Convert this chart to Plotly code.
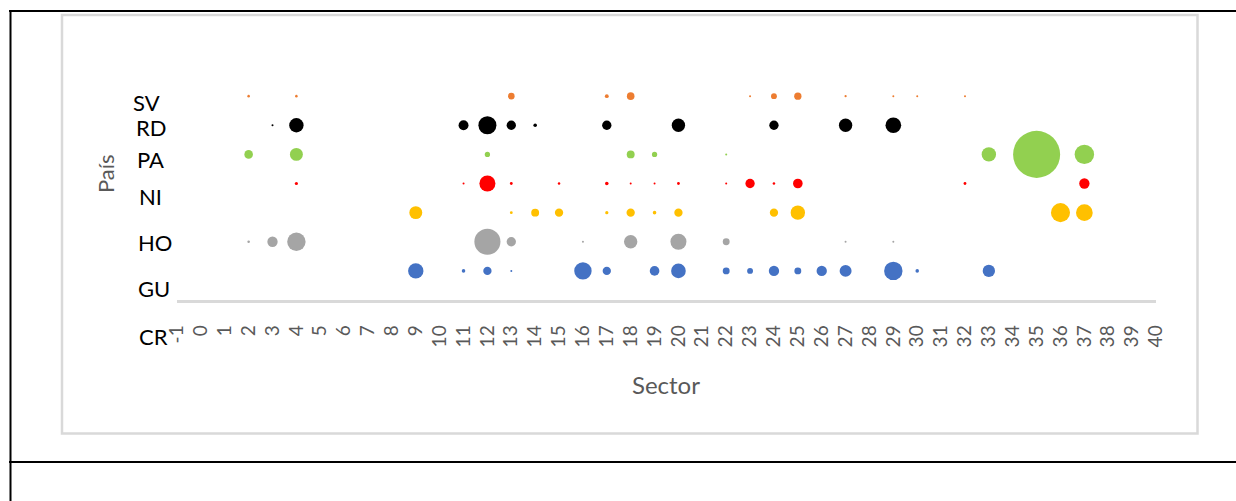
import plotly.graph_objects as go

# ---- data ----
sector_ticks = list(range(-1, 41))
row_labels = ["SV", "RD", "PA", "NI", "HO", "GU", "CR"]
row_level = [7, 6, 5, 4, 3, 2, 1]
row_colors = ["#ED7D31", "#000000", "#92D050", "#FF0000", "#FFC000", "#A5A5A5", "#4472C4"]

sv_sectors = [2, 4, 13, 17, 18, 23, 24, 25, 27, 29, 30, 32]
sv_values = [0.29, 0.29, 1.96, 0.67, 2.60, 0.10, 1.56, 2.40, 0.22, 0.05, 0.05, 0.05]

rd_sectors = [3, 4, 11, 12, 13, 14, 17, 20, 24, 27, 29]
rd_values = [0.15, 9.34, 4.45, 14.7, 3.92, 0.57, 3.92, 8.07, 3.92, 8.07, 11.1]

pa_sectors = [2, 4, 12, 18, 19, 22, 33, 35, 37]
pa_values = [3.34, 7.59, 1.25, 2.82, 1.25, 0.08, 9.34, 100, 17.1]

ni_sectors = [4, 11, 12, 13, 15, 17, 18, 19, 20, 22, 23, 24, 25, 32, 37]
ni_values = [0.47, 0.15, 11.6, 0.36, 0.29, 0.57, 0.08, 0.15, 0.36, 0.15, 3.92, 0.29, 4.18, 0.36, 4.82]

ho_sectors = [9, 13, 14, 15, 17, 18, 19, 20, 24, 25, 36, 37]
ho_values = [7.59, 0.36, 2.82, 3.11, 0.47, 3.11, 0.57, 3.11, 3.11, 9.34, 16.4, 12.6]

gu_sectors = [2, 3, 4, 12, 13, 16, 18, 20, 22, 27, 29]
gu_values = [0.29, 4.82, 15.3, 30.8, 3.92, 0.10, 8.07, 11.6, 2.14, 0.10, 0.10]

cr_sectors = [9, 11, 12, 13, 16, 17, 19, 20, 22, 23, 24, 25, 26, 27, 29, 30, 33]
cr_values = [10.7, 0.57, 3.11, 0.05, 13.7, 3.11, 4.18, 9.73, 2.14, 1.56, 4.82, 2.14, 4.82, 6.45, 15.3, 0.57, 6.89]

series_sectors = [sv_sectors, rd_sectors, pa_sectors, ni_sectors, ho_sectors, gu_sectors, cr_sectors]
series_values = [sv_values, rd_values, pa_values, ni_values, ho_values, gu_values, cr_values]

# ---- layout geometry (page pixels) ----
W, H = 1236, 501
L, R, T, B = 177, 1156, 67, 300  # plot area in page pixels


def px_x(x):
    return (x - L) / (R - L)


def px_y(y):
    return (B - y) / (B - T)


SIZEREF = 0.0904

fig = go.Figure()
for name, lvl, col, xs, vs in zip(row_labels, row_level, row_colors, series_sectors, series_values):
    fig.add_trace(go.Scatter(
        x=xs, y=[lvl] * len(xs), mode="markers", name=name,
        marker=dict(size=vs, sizemode="area", sizeref=SIZEREF, sizemin=1,
                    color=col, opacity=1, line=dict(width=0)),
        showlegend=False, hoverinfo="x+y+text", text=[str(v) for v in vs],
    ))

FONT = "Lato, Carlito, Calibri, sans-serif"

# country labels (text boxes left of the plot)
label_pos = [(131, 102), (134, 127), (135, 159), (137, 196), (136, 242), (136, 288), (137, 336)]
annotations = []
for lab, (lx, ly) in zip(row_labels, label_pos):
    annotations.append(dict(text=lab, x=px_x(lx), y=px_y(ly), xref="paper", yref="paper",
                            xanchor="left", yanchor="middle", showarrow=False,
                            font=dict(family=FONT, size=22, color="#000000")))
annotations.append(dict(text="País", x=px_x(105), y=px_y(174), xref="paper", yref="paper",
                        xanchor="center", yanchor="middle", showarrow=False, textangle=-90,
                        font=dict(family=FONT, size=22, color="#595959")))
annotations.append(dict(text="Sector", x=px_x(666), y=px_y(384), xref="paper", yref="paper",
                        xanchor="center", yanchor="middle", showarrow=False,
                        font=dict(family=FONT, size=24, color="#595959")))

shapes = [
    # chart area border
    dict(type="rect", xref="paper", yref="paper", x0=px_x(62), x1=px_x(1197.5), y0=px_y(433.5), y1=px_y(15),
         line=dict(color="#d9d9d9", width=2.5), layer="below"),
    # outer table lines
    dict(type="line", xref="paper", yref="paper", x0=px_x(9), x1=px_x(1245), y0=px_y(11), y1=px_y(11),
         line=dict(color="#000000", width=2)),
    dict(type="line", xref="paper", yref="paper", x0=px_x(10.5), x1=px_x(10.5), y0=px_y(10), y1=px_y(510),
         line=dict(color="#000000", width=2)),
    dict(type="line", xref="paper", yref="paper", x0=px_x(9), x1=px_x(1245), y0=px_y(462), y1=px_y(462),
         line=dict(color="#000000", width=2)),
]

fig.update_layout(
    width=W, height=H,
    margin=dict(l=L, r=W - R, t=T, b=H - B, pad=0),
    paper_bgcolor="white", plot_bgcolor="white",
    font=dict(family=FONT),
    xaxis=dict(range=[-1, 40], tickmode="array", tickvals=sector_ticks,
               ticktext=[str(t) for t in sector_ticks], tickangle=-90,
               showgrid=False, zeroline=False, showline=True, linecolor="#d9d9d9", linewidth=2.5,
               ticks="outside", ticklen=15, tickcolor="rgba(0,0,0,0)",
               tickfont=dict(family=FONT, size=19, color="#595959")),
    yaxis=dict(range=[0, 8], visible=False, showgrid=False, zeroline=False),
    annotations=annotations, shapes=shapes,
)

fig.write_html(
    "out.html",
    config={"displayModeBar": False},
    post_script="document.body.style.margin='0';document.body.style.overflow='hidden';",
)
